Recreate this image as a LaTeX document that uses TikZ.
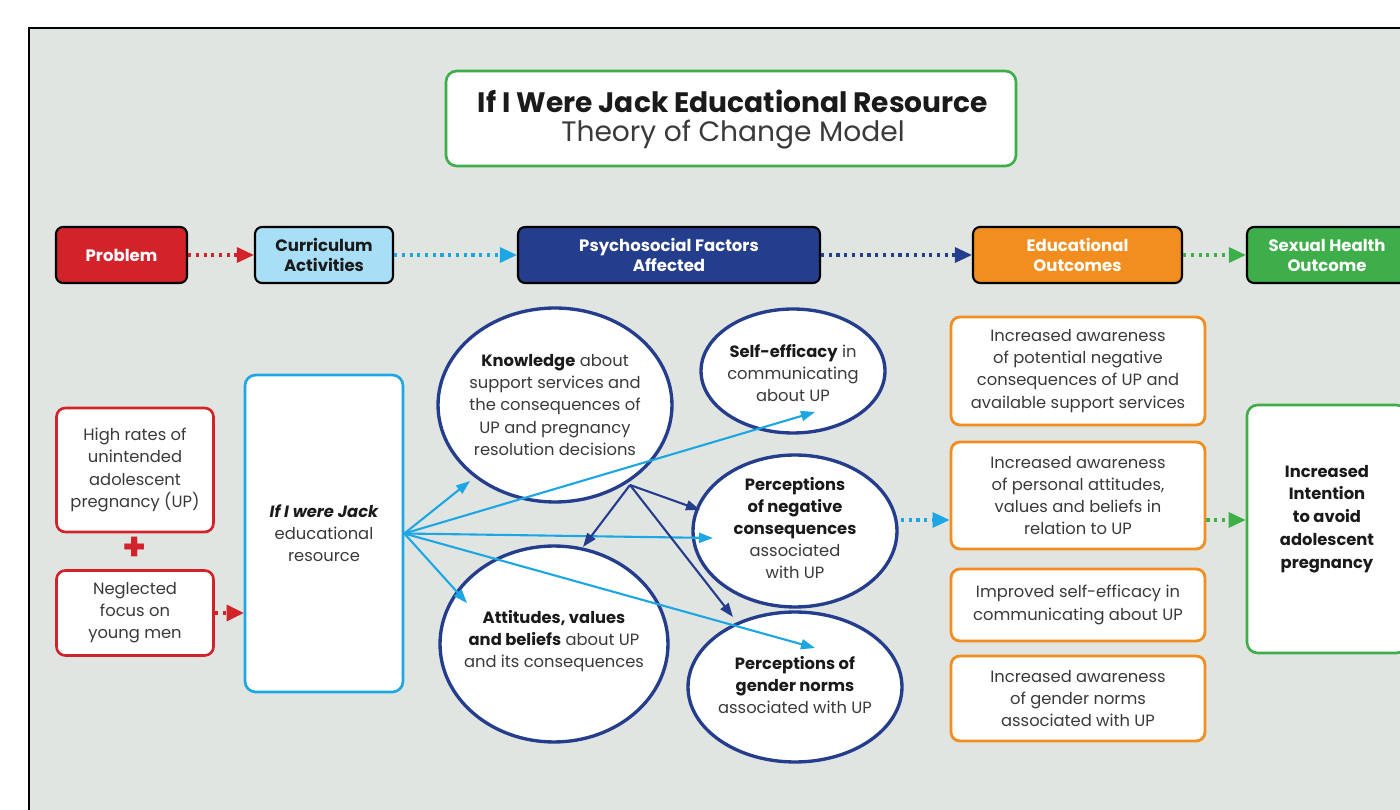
\documentclass[tikz,border=0pt]{standalone}
\usepackage{fontspec}
\setmainfont{Poppins}
\usetikzlibrary{arrows.meta,shapes.geometric,calc}
\definecolor{bg}{HTML}{E1E5E2}
\definecolor{pred}{HTML}{D2232A}
\definecolor{lblue}{HTML}{A9DEF7}
\definecolor{cblue}{HTML}{1CA7E4}
\definecolor{navy}{HTML}{243D8C}
\definecolor{orng}{HTML}{F28E1F}
\definecolor{grn}{HTML}{3DAE49}
\definecolor{txtc}{HTML}{3A3A3A}
\definecolor{boldc}{HTML}{1A1A1A}
\newcommand{\bt}[1]{{\bfseries\color{boldc}#1}}
\begin{document}
\begin{tikzpicture}[x=0.02cm,y=-0.02cm,
  every node/.style={inner sep=0pt},
  bodyfont/.style={font=\fontsize{9.3}{12.6}\selectfont, text=txtc, align=center},
  hdr/.style={draw=black, line width=1.2pt, rounded corners=4pt, text=white,
    font=\fontsize{9.4}{11.4}\selectfont\bfseries, align=center, minimum height=1.12cm},
  rbox/.style={draw=pred, fill=white, line width=1.5pt, rounded corners=5pt, bodyfont, minimum width=3.14cm},
  obox/.style={draw=orng, fill=white, line width=1.6pt, rounded corners=5pt, bodyfont, minimum width=5.08cm},
  ell/.style={ellipse, draw=navy, line width=1.9pt, fill=white},
  etxt/.style={bodyfont},
  dotarr/.style={line width=1.8pt, dash pattern=on 1.8pt off 2.6pt, -{Triangle[length=0.34cm,width=0.3cm]}},
  barr/.style={cblue, line width=1.2pt, -{Triangle[length=0.28cm,width=0.2cm]}},
  narr/.style={navy, line width=1.2pt, -{Triangle[length=0.28cm,width=0.2cm]}}
]
\useasboundingbox (0,0) rectangle (1400,810);
\fill[white] (0,0) rectangle (1400,810);
\draw[fill=bg, draw=black, line width=0.9pt] (29,28) rectangle (1430,840);

% title
\node[draw=grn, fill=white, line width=1.5pt, rounded corners=6pt, minimum width=11.4cm, minimum height=1.9cm] (title) at (731,118.5) {};
\node[align=center, text=boldc, font=\fontsize{16}{19}\selectfont\bfseries] (t1) at (733,101) {If I Were Jack Educational Resource};
\node[align=center, text=txtc, font=\fontsize{16}{19}\selectfont] (t2) at (733,135) {Theory of Change Model};

% header row
\node[hdr, fill=pred, minimum width=2.62cm] (prob) at (121.5,255) {Problem};
\node[hdr, fill=lblue, text=boldc, minimum width=2.76cm] (curr) at (324,255) {Curriculum\\Activities};
\node[hdr, fill=navy, minimum width=6.04cm] (psy) at (669,255) {Psychosocial Factors\\Affected};
\node[hdr, fill=orng, minimum width=4.18cm] (edu) at (1077.5,255) {Educational\\Outcomes};
\node[hdr, fill=grn, minimum width=3.2cm] (sex) at (1327,255) {Sexual Health\\Outcome};

\draw[dotarr, pred] (prob.east) -- (curr.west);
\draw[dotarr, cblue] (curr.east) -- (psy.west);
\draw[dotarr, navy] (psy.east) -- (edu.west);
\draw[dotarr, grn] (edu.east) -- (sex.west);

% left column
\node[rbox, minimum height=2.48cm] (high) at (135,470) {High rates of\\unintended\\adolescent\\pregnancy (UP)};
\node[text=pred, font=\fontsize{22}{22}\selectfont\bfseries] (plus) at (135,549) {+};
\node[rbox, minimum height=1.7cm] (negl) at (135,613) {Neglected\\focus on\\young men};
\node[draw=cblue, fill=white, line width=1.5pt, rounded corners=6pt, minimum width=3.16cm, minimum height=6.34cm, bodyfont] (jack) at (324,533.5) {{\bfseries\itshape\color{boldc}If I were Jack}\\educational\\resource};
\draw[dotarr, pred, line width=1.8pt, -{Triangle[length=0.34cm,width=0.32cm]}] (negl.east) -- (negl.east -| jack.west);

% ellipses
\node[ell, minimum width=4.68cm, minimum height=3.88cm] (know) at (555,405) {};
\node[ell, minimum width=3.68cm, minimum height=2.48cm] (self) at (793,371) {};
\node[ell, minimum width=4.08cm, minimum height=3.04cm] (perc) at (795,531) {};
\node[ell, minimum width=4.56cm, minimum height=3.92cm] (att) at (554,644) {};
\node[ell, minimum width=4.28cm, minimum height=3.0cm] (gend) at (795,687) {};

\node[etxt] (knowT) at (555,405) {\bt{Knowledge} about\\support services and\\the consequences of\\UP and pregnancy\\resolution decisions};
\node[etxt] (selfT) at (793,373) {\bt{Self-efficacy} in\\communicating\\about UP};
\node[etxt] (percT) at (795,528) {\bt{Perceptions}\\\bt{of negative}\\\bt{consequences}\\associated\\with UP};
\node[etxt] (attT) at (554,641) {\bt{Attitudes, values}\\\bt{and beliefs} about UP\\and its consequences};
\node[etxt] (gendT) at (795,685) {\bt{Perceptions of}\\\bt{gender norms}\\associated with UP};

% blue arrows from resource
\draw[barr] (jack.east) -- ($(know.center)+(-85,76)$);
\draw[barr] (jack.east) -- ($(self.center)+(22,41)$);
\draw[barr] (jack.east) -- ($(perc.center)+(-82,7)$);
\draw[barr] (jack.east) -- ($(att.center)+(-87,-41)$);
\draw[barr] (jack.east) -- ($(gend.center)+(20,-39)$);

% navy arrows from knowledge
\coordinate (ko) at ($(know.center)+(75,80)$);
\draw[narr] (ko) -- ($(att.center)+(29,-97)$);
\draw[narr] (ko) -- ($(perc.center)+(-95,-21)$);
\draw[narr] (ko) -- ($(gend.center)+(-62,-70)$);

% outcomes
\node[obox, minimum height=2.16cm] (ob1) at (1078,371) {Increased awareness\\of potential negative\\consequences of UP and\\available support services};
\node[obox, minimum height=2.14cm] (ob2) at (1078,495.5) {Increased awareness\\of personal attitudes,\\values and beliefs in\\relation to UP};
\node[obox, minimum height=1.44cm] (ob3) at (1078,605) {Improved self-efficacy in\\communicating about UP};
\node[obox, minimum height=1.7cm] (ob4) at (1078,698.5) {Increased awareness\\of gender norms\\associated with UP};

\node[draw=grn, fill=white, line width=1.5pt, rounded corners=6pt, minimum width=3.2cm, minimum height=4.96cm] (goal) at (1327,529) {};
\node[font=\fontsize{9.3}{13}\selectfont\bfseries, text=boldc, align=center] (goalT) at (1327,519) {Increased\\Intention\\to avoid\\adolescent\\pregnancy};

\coordinate (mid) at (901,520);
\draw[dotarr, cblue] (mid) -- (mid -| ob2.west);
\draw[dotarr, grn] (mid -| ob2.east) -- (mid -| goal.west);
\end{tikzpicture}
\end{document}
